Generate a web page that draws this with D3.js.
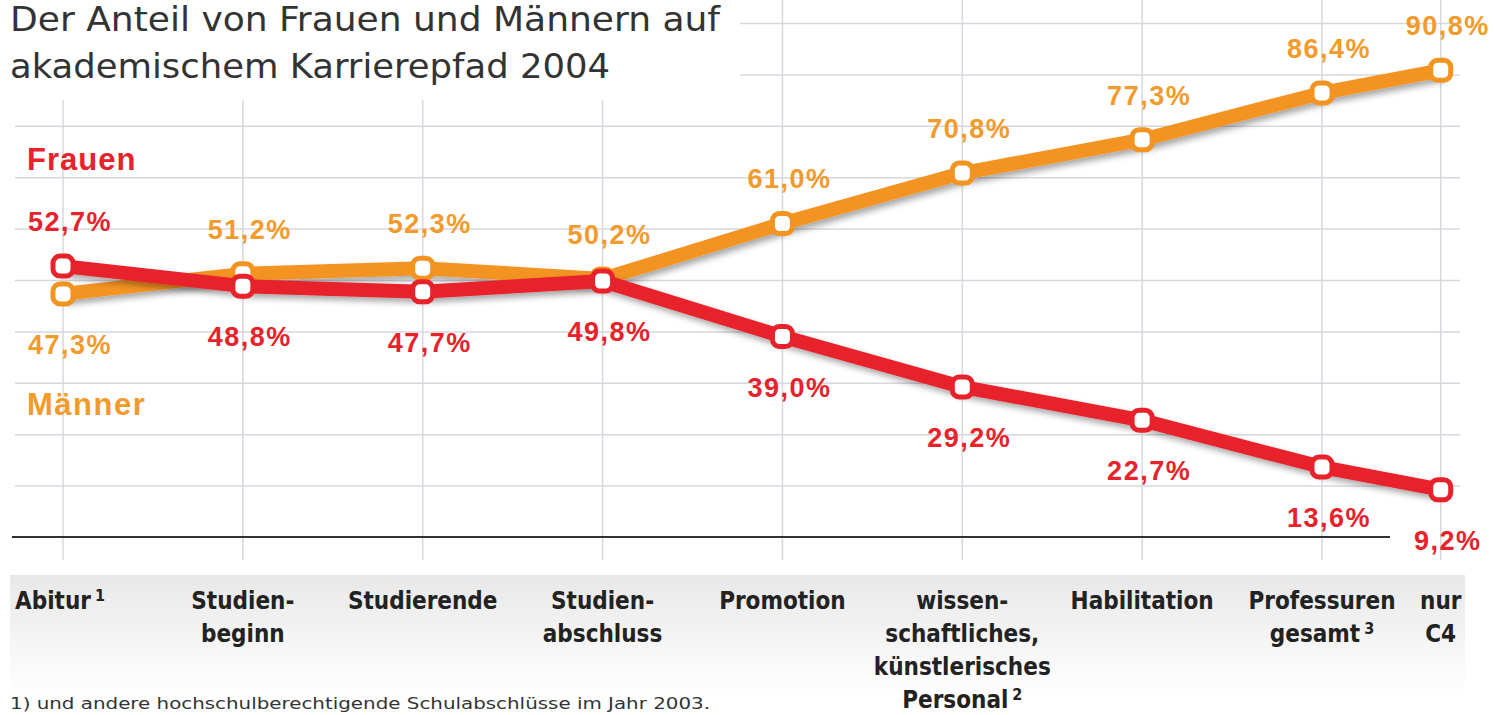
<!DOCTYPE html>
<html>
<head>
<meta charset="utf-8">
<script src="https://cdn.jsdelivr.net/npm/d3@7"></script>
<style>
  body { margin: 0; background: #fff; }
  svg { display: block; }
</style>
</head>
<body>
<div id="chart"></div>
<script>
// Data
const categories = ['Abitur', 'Studienbeginn', 'Studierende', 'Studienabschluss', 'Promotion',
    'wissenschaftliches, künstlerisches Personal', 'Habilitation', 'Professuren gesamt', 'nur C4'];
const categoryLines = [
    ['Abitur'], ['Studien-', 'beginn'], ['Studierende'], ['Studien-', 'abschluss'], ['Promotion'],
    ['wissen-', 'schaftliches,', 'künstlerisches', 'Personal'], ['Habilitation'],
    ['Professuren', 'gesamt'], ['nur', 'C4']
];
const footnoteMarks = ['1', '', '', '', '', '2', '', '3', ''];
const frauen = [52.7, 48.8, 47.7, 49.8, 39.0, 29.2, 22.7, 13.6, 9.2];
const maenner = [47.3, 51.2, 52.3, 50.2, 61.0, 70.8, 77.3, 86.4, 90.8];
const gridTicks = [10, 20, 30, 40, 50, 60, 70, 80, 90, 100];
const titleLines = ['Der Anteil von Frauen und Männern auf', 'akademischem Karrierepfad 2004'];
const footnote = '1) und andere hochschulberechtigende Schulabschlüsse im Jahr 2003.';

const W = 1494, H = 715;
const red = '#e8222b', orange = '#f39320';
const condensed = "'Liberation Sans Narrow', 'DejaVu Sans Condensed', 'Arial Narrow', sans-serif";

const svg = d3.select('#chart').append('svg')
    .attr('width', W).attr('height', H);

const defs = svg.append('defs');
const shadow = defs.append('filter').attr('id', 'shadow')
    .attr('x', '-10%').attr('y', '-20%').attr('width', '130%').attr('height', '160%');
shadow.append('feDropShadow')
    .attr('dx', 3).attr('dy', 4).attr('stdDeviation', 3)
    .attr('flood-color', '#000').attr('flood-opacity', 0.35);

const band = defs.append('linearGradient').attr('id', 'band')
    .attr('x1', 0).attr('y1', 0).attr('x2', 0).attr('y2', 1);
band.append('stop').attr('offset', '0%').attr('stop-color', '#e8e8e8');
band.append('stop').attr('offset', '100%').attr('stop-color', '#ffffff');

// Scales: the last category (nur C4) is a subset of Professuren, so it sits closer
const xp = d3.scalePoint().domain(categories.slice(0, 8)).range([63, 1322]);
const x = c => categories.indexOf(c) < 8 ? xp(c) : xp(categories[7]) + xp.step() * 0.66;
const y = d3.scaleLinear().domain([0, 100]).range([537, 23]);

// Category band
svg.append('rect')
    .attr('x', 10).attr('y', 575).attr('width', 1455).attr('height', 120)
    .attr('fill', 'url(#band)');

// Horizontal grid
svg.append('g')
    .attr('transform', 'translate(15,0)')
    .call(d3.axisLeft(y).tickValues(gridTicks).tickSize(-1445).tickFormat(''))
    .call(g => g.select('.domain').remove())
    .selectAll('line').attr('stroke', '#d6d8de').attr('stroke-width', 1.5);

// Vertical grid
svg.append('g').selectAll('line')
    .data(categories).enter().append('line')
    .attr('x1', d => x(d)).attr('x2', d => x(d))
    .attr('y1', 0).attr('y2', 560)
    .attr('stroke', '#d6d8de').attr('stroke-width', 1.5);

// Baseline
svg.append('line')
    .attr('x1', 12).attr('x2', 1390).attr('y1', y(0)).attr('y2', y(0))
    .attr('stroke', '#333').attr('stroke-width', 2);

// Title box covering the grid
svg.append('rect').attr('x', 0).attr('y', 0).attr('width', 740).attr('height', 100).attr('fill', '#fff');
svg.append('g').selectAll('text')
    .data(titleLines).enter().append('text')
    .attr('x', 10).attr('y', (d, i) => 31 + i * 47)
    .attr('textLength', (d, i) => i === 0 ? 710 : 600)
    .attr('lengthAdjust', 'spacingAndGlyphs')
    .style('font-family', condensed)
    .style('font-size', '33px')
    .style('fill', '#333')
    .text(d => d);

// Lines
const series = [
    { name: 'Männer', values: maenner, color: orange },
    { name: 'Frauen', values: frauen, color: red }
];
const line = d3.line()
    .x((d, i) => x(categories[i]))
    .y(d => y(d));

series.forEach(s => {
    const g = svg.append('g');
    g.append('path')
        .datum(s.values)
        .attr('d', line)
        .attr('fill', 'none')
        .attr('stroke', s.color)
        .attr('stroke-width', 14)
        .attr('stroke-linejoin', 'round')
        .attr('filter', 'url(#shadow)');
    g.selectAll('rect')
        .data(s.values).enter().append('rect')
        .attr('x', (d, i) => x(categories[i]) - 10)
        .attr('y', d => y(d) - 10)
        .attr('width', 20).attr('height', 20)
        .attr('rx', 7)
        .attr('fill', '#fff')
        .attr('stroke', s.color)
        .attr('stroke-width', 5);
});

// Value labels: placed on the side away from the other series
const fmt = v => v.toFixed(1).replace('.', ',') + '%';
series.forEach(s => {
    const other = s.values === frauen ? maenner : frauen;
    svg.append('g').selectAll('text')
        .data(s.values).enter().append('text')
        .attr('x', (d, i) => x(categories[i]) + 7)
        .attr('y', (d, i) => d > other[i] ? y(d) - 35 : y(d) + 60)
        .attr('text-anchor', 'middle')
        .style('font-family', 'Arial, Helvetica, sans-serif')
        .style('font-weight', 'bold')
        .style('font-size', '27px')
        .style('letter-spacing', '1.5px')
        .style('fill', s.color === red ? red : '#f39a2c')
        .text(d => fmt(d));
});

// Series names
svg.append('text')
    .attr('x', 27).attr('y', 170)
    .style('font-family', 'Arial, Helvetica, sans-serif')
    .style('font-weight', 'bold').style('font-size', '31px')
    .style('letter-spacing', '1px')
    .style('fill', red).text('Frauen');
svg.append('text')
    .attr('x', 27).attr('y', 415)
    .style('font-family', 'Arial, Helvetica, sans-serif')
    .style('font-weight', 'bold').style('font-size', '31px')
    .style('letter-spacing', '1.5px')
    .style('fill', '#f39a2c').text('Männer');

// Category labels
const catG = svg.append('g')
    .style('font-family', condensed)
    .style('font-weight', 'bold')
    .style('font-size', '24px')
    .style('fill', '#222');
categories.forEach((c, i) => {
    const first = i === 0;
    const t = catG.append('text')
        .attr('x', first ? 15 : x(c))
        .attr('text-anchor', first ? 'start' : 'middle');
    const lines = categoryLines[i];
    lines.forEach((l, j) => {
        t.append('tspan')
            .attr('x', first ? 15 : x(c))
            .attr('y', 609 + j * 33)
            .text(l);
        if (j === lines.length - 1 && footnoteMarks[i]) {
            t.append('tspan')
                .attr('dx', 4).attr('dy', -8)
                .style('font-size', '16px')
                .text(footnoteMarks[i]);
        }
    });
});

// Footnote
svg.append('text')
    .attr('x', 10).attr('y', 709)
    .attr('textLength', 700).attr('lengthAdjust', 'spacingAndGlyphs')
    .style('font-family', condensed)
    .style('font-size', '16px')
    .style('fill', '#333')
    .text(footnote);
</script>
</body>
</html>
